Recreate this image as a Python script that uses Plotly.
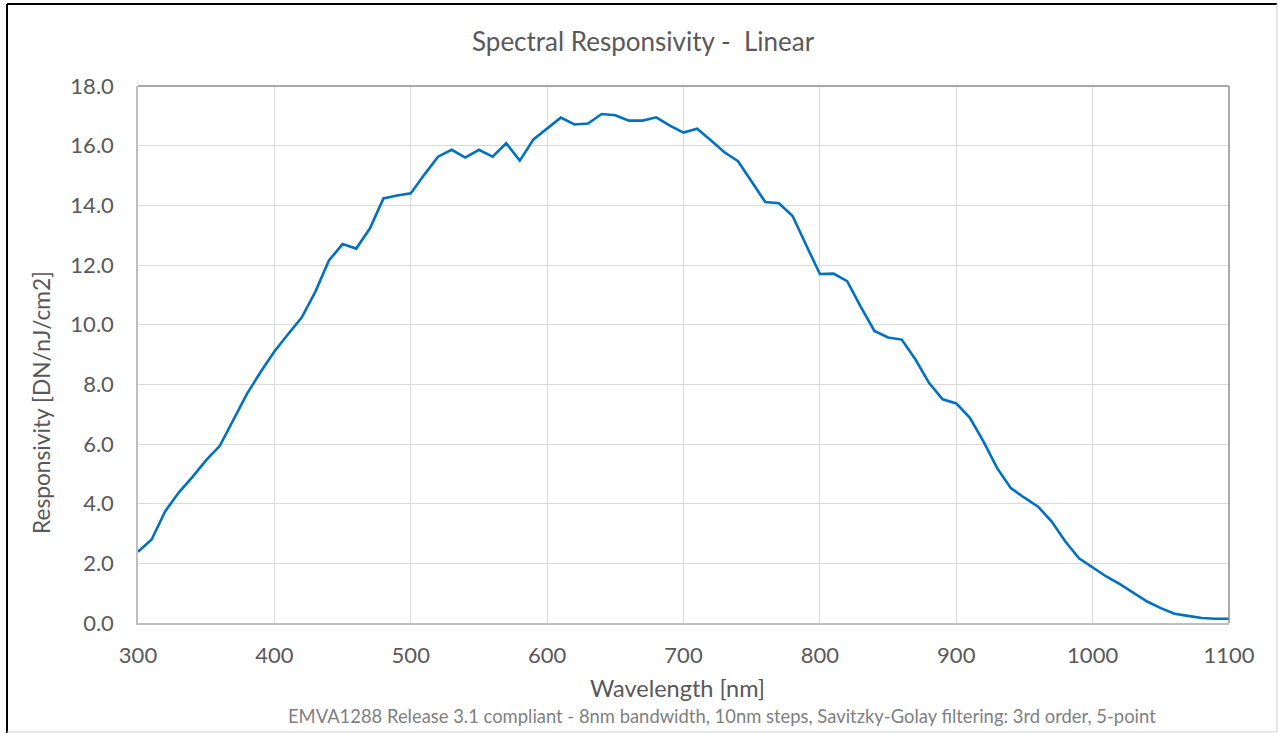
import plotly.graph_objects as go

wavelength_nm = list(range(300, 1101, 10))
responsivity = [
    2.39, 2.80, 3.75, 4.38, 4.90, 5.46, 5.94, 6.80, 7.69, 8.42,
    9.10, 9.68, 10.24, 11.10, 12.15, 12.70, 12.55, 13.22, 14.23, 14.33,
    14.40, 15.03, 15.63, 15.86, 15.60, 15.86, 15.63, 16.08, 15.50, 16.21,
    16.58, 16.94, 16.71, 16.74, 17.06, 17.02, 16.84, 16.84, 16.95, 16.67,
    16.44, 16.57, 16.18, 15.78, 15.48, 14.78, 14.11, 14.07, 13.64, 12.66,
    11.70, 11.71, 11.46, 10.60, 9.79, 9.57, 9.50, 8.84, 8.05, 7.50,
    7.36, 6.88, 6.08, 5.19, 4.52, 4.20, 3.90, 3.40, 2.73, 2.17,
    1.87, 1.56, 1.30, 1.00, 0.72, 0.50, 0.31, 0.24, 0.17, 0.14,
    0.14,
]

title_text = "Spectral Responsivity -  Linear"
x_title = "Wavelength [nm]"
y_title = "Responsivity [DN/nJ/cm2]"
footnote = ("EMVA1288 Release 3.1 compliant - 8nm bandwidth, 10nm steps, "
            "Savitzky-Golay filtering: 3rd order, 5-point")

W, H = 1278, 733
L, R, T, B = 138, 1229, 86, 623
pw, ph = R - L, B - T


def px(x):
    return (x - L) / pw


def py(y):
    return (B - y) / ph


FONT = "Lato"
TXT = "#595959"

fig = go.Figure()
fig.add_trace(go.Scatter(
    x=wavelength_nm, y=responsivity, mode="lines",
    line=dict(color="#0070C0", width=2.6), showlegend=False,
    hoverinfo="x+y",
))

fig.update_layout(
    width=W, height=H,
    margin=dict(l=L, r=W - R, t=T, b=H - B, pad=0),
    paper_bgcolor="white", plot_bgcolor="white",
    font=dict(family=FONT, color=TXT, size=19),
    showlegend=False,
)

fig.update_xaxes(
    range=[300, 1100], dtick=100, tick0=300,
    showgrid=True, gridcolor="#d9d9d9", gridwidth=1.3,
    showline=True, linecolor="#bfbfbf", linewidth=1.5,
    ticks="", ticklabelstandoff=12, zeroline=False,
    tickfont=dict(family=FONT, size=22, color=TXT),
)
fig.update_yaxes(
    range=[0, 18], dtick=2, tick0=0, tickformat=".1f",
    showgrid=True, gridcolor="#d9d9d9", gridwidth=1.3,
    showline=True, linecolor="#bfbfbf", linewidth=1.5,
    ticks="", ticklabelstandoff=18, zeroline=False,
    tickfont=dict(family=FONT, size=22, color=TXT),
)

annotations = [
    dict(text=title_text, x=px(643), y=py(41), font=dict(size=26, color=TXT)),
    dict(text=x_title, x=px(677), y=py(688), font=dict(size=23.5, color=TXT)),
    dict(text=y_title, x=px(41), y=py(403), textangle=-90,
         font=dict(size=22.7, color=TXT)),
    dict(text=footnote, x=px(722), y=py(716), font=dict(size=18.4, color="#7f7f7f")),
]
for a in annotations:
    a.update(xref="paper", yref="paper", showarrow=False,
             xanchor="center", yanchor="middle")
    a["font"]["family"] = FONT
fig.update_layout(annotations=annotations)

shapes = [
    # plot area top and right borders (darker)
    dict(type="line", x0=0, x1=1, y0=1, y1=1, line=dict(color="#8c8c8c", width=1.5)),
    dict(type="line", x0=1, x1=1, y0=0, y1=1, line=dict(color="#8c8c8c", width=1.5)),
    # outer frame
    dict(type="line", x0=px(7), x1=px(1277), y0=py(4), y1=py(4), line=dict(color="#000000", width=2)),
    dict(type="line", x0=px(7), x1=px(7), y0=py(4), y1=py(733), line=dict(color="#000000", width=2)),
    dict(type="line", x0=px(1277), x1=px(1277), y0=py(4), y1=py(732), line=dict(color="#d0d0d0", width=1)),
    dict(type="line", x0=px(7), x1=px(1277), y0=py(732), y1=py(732), line=dict(color="#d0d0d0", width=1)),
]
for s in shapes:
    s.update(xref="paper", yref="paper", layer="above")
fig.update_layout(shapes=shapes)

fig.write_html(
    "out.html",
    config={"displayModeBar": False},
    post_script="document.body.style.margin='0';document.body.style.overflow='hidden';",
)
